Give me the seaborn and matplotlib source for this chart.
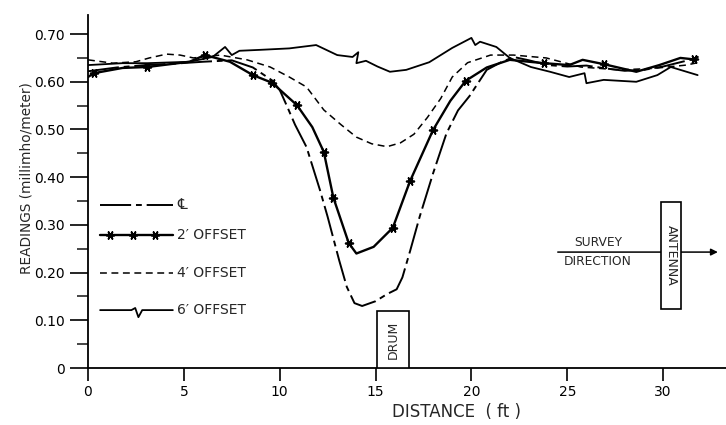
import numpy as np
import pandas as pd
import matplotlib
matplotlib.use("Agg")
import matplotlib.pyplot as plt
from matplotlib.patches import Rectangle
from matplotlib.ticker import MultipleLocator, FixedLocator, FixedFormatter
import seaborn as sns

# ---------------- data ----------------
cl_x = [0, 1.5, 3, 4.5, 6, 7.5, 8.6, 9.6, 10.0, 10.4, 10.8, 11.4, 12.1, 12.5, 13.1, 13.5,
        13.9, 14.3, 15.0, 15.6, 16.1, 16.4, 16.8, 17.3, 18.0, 18.7, 19.3, 19.9, 20.8, 21.5,
        22.2, 23.0, 24.0, 25.0, 26.0, 27.0, 28.0, 29.0, 30.0, 31.0, 31.8]
cl_y = [0.622, 0.630, 0.635, 0.638, 0.642, 0.645, 0.630, 0.603, 0.583, 0.547, 0.510, 0.463,
        0.373, 0.317, 0.226, 0.170, 0.136, 0.130, 0.140, 0.155, 0.165, 0.190, 0.245, 0.317,
        0.408, 0.492, 0.540, 0.570, 0.625, 0.640, 0.652, 0.645, 0.635, 0.632, 0.634, 0.628,
        0.623, 0.625, 0.632, 0.642, 0.650]

off2_x = [0, 0.3, 1.8, 3.1, 5.3, 6.1, 7.4, 8.6, 9.6, 10.9, 11.7, 12.3, 12.8, 13.6, 14.0,
          14.9, 15.9, 16.8, 18.0, 18.9, 19.7, 20.8, 22.0, 23.0, 23.8, 25.1, 25.8, 26.9, 28.6,
          29.8, 30.9, 31.6, 31.8]
off2_y = [0.610, 0.618, 0.629, 0.631, 0.642, 0.656, 0.642, 0.614, 0.598, 0.551, 0.505,
          0.453, 0.357, 0.262, 0.240, 0.254, 0.294, 0.392, 0.499, 0.560, 0.602, 0.630, 0.646,
          0.642, 0.639, 0.635, 0.646, 0.637, 0.621, 0.635, 0.650, 0.647, 0.652]
off2_star_x = [0.3, 3.1, 6.1, 8.6, 9.6, 10.9, 12.3, 12.8, 13.6, 15.9, 16.8, 18.0, 19.7,
               23.8, 26.9, 31.6]
off2_star_y = [0.618, 0.631, 0.656, 0.614, 0.598, 0.551, 0.453, 0.357, 0.262, 0.294,
               0.392, 0.499, 0.602, 0.639, 0.637, 0.647]

off4_x = [0, 1.3, 2.5, 3.2, 4.1, 4.8, 5.5, 6.9, 8.3, 9.5, 10.5, 11.4, 12.3, 13.2, 14.0,
          14.8, 15.6, 16.3, 17.0, 17.7, 18.4, 19.0, 19.8, 21.0, 22.2, 23.9, 25.7, 27.7, 29.5,
          31.2, 31.8]
off4_y = [0.646, 0.639, 0.642, 0.650, 0.658, 0.656, 0.650, 0.656, 0.646, 0.631, 0.610,
          0.589, 0.541, 0.510, 0.484, 0.470, 0.464, 0.472, 0.490, 0.525, 0.565, 0.610, 0.640,
          0.656, 0.656, 0.650, 0.631, 0.625, 0.628, 0.635, 0.640]

off6_x = [0, 1.8, 3.1, 5.3, 6.5, 7.15, 7.5, 7.9, 9.0, 10.5, 11.9, 13.0, 13.8, 14.1, 14.0,
          14.5, 15.1, 15.75, 16.6, 17.8, 19.0, 20.0, 20.2, 20.45, 21.3, 22.0, 23.1, 24.1,
          25.1, 25.9, 26.0, 26.9, 28.6, 29.7, 30.4, 31.8]
off6_y = [0.635, 0.639, 0.639, 0.642, 0.652, 0.673, 0.656, 0.665, 0.667, 0.670, 0.677,
          0.656, 0.652, 0.662, 0.639, 0.644, 0.632, 0.621, 0.625, 0.641, 0.671, 0.692, 0.677,
          0.684, 0.673, 0.650, 0.631, 0.621, 0.610, 0.618, 0.597, 0.604, 0.600, 0.614, 0.631,
          0.614]

legend_labels = ["\u2104", "2\u2032 OFFSET", "4\u2032 OFFSET", "6\u2032 OFFSET"]
y_ticks = [0, 0.1, 0.2, 0.3, 0.4, 0.5, 0.6, 0.7]
y_tick_labels = ["0", "0.10", "0.20", "0.30", "0.40", "0.50", "0.60", "0.70"]
x_ticks = [0, 5, 10, 15, 20, 25, 30]

# ---------------- style ----------------
sns.set_style("white")
plt.rcParams["font.family"] = ["DejaVu Sans", "Noto Sans"]

fig = plt.figure(figsize=(7.26, 4.25), dpi=100)
ax = fig.add_axes([88 / 726, 1 - 368 / 425, 638 / 726, 353 / 425])

k = "black"
star = (6, 2, 90)
df_cl = pd.DataFrame({"x": cl_x, "y": cl_y})
df_2 = pd.DataFrame({"x": off2_x, "y": off2_y})
df_2s = pd.DataFrame({"x": off2_star_x, "y": off2_star_y})
df_4 = pd.DataFrame({"x": off4_x, "y": off4_y})
df_6 = pd.DataFrame({"x": off6_x, "y": off6_y})

sns.lineplot(data=df_cl, x="x", y="y", sort=False, estimator=None, ax=ax, color=k,
             lw=1.4, linestyle=(0, (16, 2.5, 3, 2.5)))
sns.lineplot(data=df_2, x="x", y="y", sort=False, estimator=None, ax=ax, color=k, lw=1.7)
sns.scatterplot(data=df_2s, x="x", y="y", ax=ax, color=k, marker=star, s=30,
                linewidth=1.3, edgecolor=k, zorder=5)
sns.lineplot(data=df_4, x="x", y="y", sort=False, estimator=None, ax=ax, color=k,
             lw=1.1, linestyle=(0, (4.5, 3)))
sns.lineplot(data=df_6, x="x", y="y", sort=False, estimator=None, ax=ax, color=k, lw=1.3)

# ---------------- axes ----------------
ax.set_xlim(0, 33.28)
ax.set_ylim(0, 0.74)
for s in ["top", "right"]:
    ax.spines[s].set_visible(False)
for s in ["left", "bottom"]:
    ax.spines[s].set_color(k)
    ax.spines[s].set_linewidth(1.3)

ax.yaxis.set_major_locator(FixedLocator(y_ticks))
ax.yaxis.set_major_formatter(FixedFormatter(y_tick_labels))
ax.yaxis.set_minor_locator(MultipleLocator(0.05))
ax.xaxis.set_major_locator(FixedLocator(x_ticks))
ax.tick_params(axis="y", which="major", direction="out", length=13, width=1.2,
               labelsize=10, pad=3.5, left=True, colors=k)
ax.tick_params(axis="y", which="minor", direction="out", length=8, width=1.2, left=True)
ax.tick_params(axis="x", which="major", direction="out", length=9, width=1.2,
               labelsize=10, pad=3, bottom=True, colors=k)

ax.set_xlabel("DISTANCE  ( ft )", fontsize=12)
ax.set_ylabel("READINGS (millimho/meter)", fontsize=9.8)
ax.xaxis.set_label_coords(0.578, -0.10)
ax.yaxis.set_label_coords(-0.086, 0.538)

# ---------------- legend (hand drawn like the reference) ----------------
tr = ax.transAxes
lx0, lx1, tx = 0.019, 0.133, 0.140
ly = [0.462, 0.377, 0.269, 0.164]
ax.plot([lx0, lx1], [ly[0], ly[0]], transform=tr, color=k, lw=1.4,
        linestyle=(0, (16, 2.5, 3, 2.5)), clip_on=False)
ax.plot([lx0, lx1], [ly[1], ly[1]], transform=tr, color=k, lw=1.7, clip_on=False)
ax.scatter([0.035, 0.070, 0.105], [ly[1]] * 3, transform=tr, color=k, marker=star,
           s=30, linewidths=1.3, zorder=5, clip_on=False)
ax.plot([lx0, lx1], [ly[2], ly[2]], transform=tr, color=k, lw=1.1,
        linestyle=(0, (4.5, 3)), clip_on=False)
ax.plot([lx0, 0.068, 0.074, 0.079, 0.085, lx1],
        [ly[3], ly[3], ly[3] + 0.006, ly[3] - 0.02, ly[3], ly[3]],
        transform=tr, color=k, lw=1.3, clip_on=False)
for yy, lab in zip(ly, legend_labels):
    ax.text(tx, yy, lab, transform=tr, fontsize=10 if lab != "\u2104" else 11,
            va="center", ha="left")

# ---------------- DRUM box ----------------
ax.add_patch(Rectangle((15.08, 0), 1.67, 0.119, fill=True, facecolor="white",
                       edgecolor=k, lw=1.2, zorder=3))
ax.text(15.9, 0.058, "DRUM", rotation=90, fontsize=9, ha="center", va="center",
        zorder=4)

# ---------------- survey direction / antenna ----------------
ax.annotate("", xy=(33.0, 0.243), xytext=(24.36, 0.243),
            arrowprops=dict(arrowstyle="-|>", color=k, lw=1.1, mutation_scale=10),
            annotation_clip=False)
ax.add_patch(Rectangle((29.9, 0.124), 1.03, 0.224, fill=True, facecolor="white",
                       edgecolor=k, lw=1.2, zorder=3))
ax.text(30.42, 0.236, "ANTENNA", rotation=-90, fontsize=9, ha="center", va="center",
        zorder=4)
ax.text(26.6, 0.249, "SURVEY", fontsize=8.8, ha="center", va="bottom")
ax.text(26.6, 0.236, "DIRECTION", fontsize=8.8, ha="center", va="top")

fig.savefig("out.png", dpi=100)
